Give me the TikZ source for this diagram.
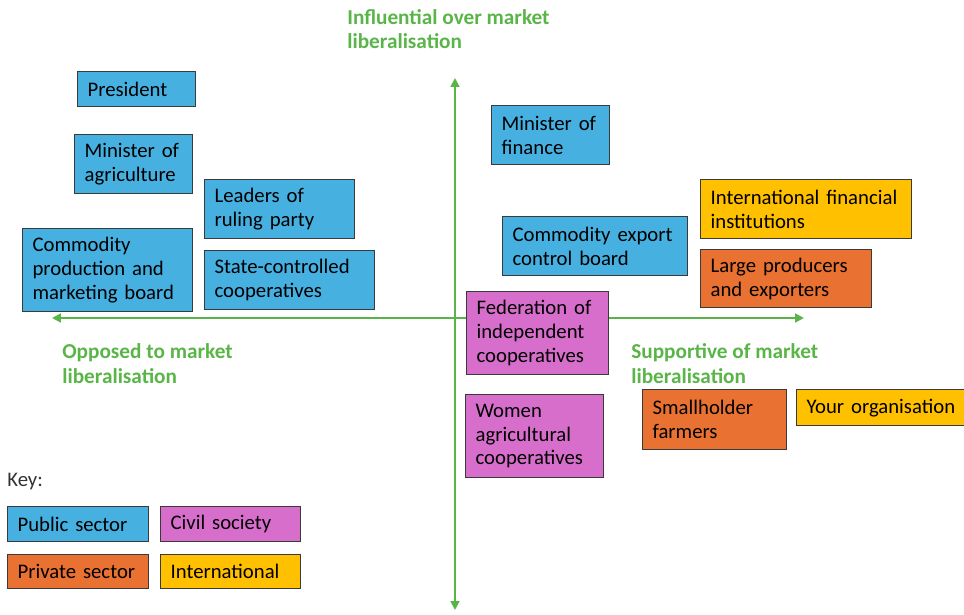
\documentclass[tikz,border=0pt]{standalone}
\usepackage{fontspec}
\setmainfont{Carlito}
\usetikzlibrary{arrows.meta}
\definecolor{pub}{HTML}{46B1E1}
\definecolor{civ}{HTML}{D86ECC}
\definecolor{priv}{HTML}{E97132}
\definecolor{intl}{HTML}{FFC000}
\definecolor{axis}{HTML}{5AB548}
\definecolor{edge}{HTML}{3A3A3A}
\definecolor{keytxt}{HTML}{333333}
\tikzset{
  actor/.style={draw=edge, line width=0.7pt, anchor=north west, align=left,
    inner xsep=0.2cm, inner ysep=0pt, text=black, font=\fontsize{11.8}{13.6}\selectfont},
  pubbox/.style={actor, fill=pub},
  civbox/.style={actor, fill=civ},
  privbox/.style={actor, fill=priv},
  intlbox/.style={actor, fill=intl},
  sz/.style 2 args={minimum width=#1*0.02cm, minimum height=#2*0.02cm, text width=#1*0.02cm-0.4cm},
  axlab/.style={text=axis, font=\bfseries\fontsize{12.1}{13.9}\selectfont, anchor=base west, align=left, inner sep=0pt},
  axline/.style={draw=axis, line width=1.1pt, {Triangle[length=5pt,width=5pt]}-{Triangle[length=5pt,width=5pt]}},
}
\begin{document}
\begin{tikzpicture}[x=0.02cm, y=-0.02cm]
  \useasboundingbox (0,0) rectangle (964,615);

  % axes
  \coordinate (top) at (455,78);
  \coordinate (bot) at (455,610);
  \coordinate (lft) at (52,318);
  \coordinate (rgt) at (804,318);
  \draw[axline] (top) -- (bot);
  \draw[axline] (lft) -- (rgt);

  % base anchor sits on the last line
  \node[axlab] (infl) at (347,49) {Influential over market\\liberalisation};
  \node[axlab] (opp)  at (62,383) {Opposed to market\\liberalisation};
  \node[axlab] (supp) at (631,383) {Supportive of market\\liberalisation};

  % public sector
  \node[pubbox, sz={118}{35}] (pres)   at (77,71)  {President};
  \node[pubbox, sz={118}{59}] (minag)  at (74,134) {Minister of\\agriculture};
  \node[pubbox, sz={150}{59}] (ruling) at (204,179) {Leaders of\\ruling party};
  \node[pubbox, sz={170}{83}] (cpmb)   at (22,228) {Commodity\\production and\\marketing board};
  \node[pubbox, sz={170}{59}] (stcoop) at (204,250) {State-controlled\\cooperatives};
  \node[pubbox, sz={118}{59}] (minfin) at (491,105) {Minister of\\finance};
  \node[pubbox, sz={185}{59}] (cecb)   at (502,216) {Commodity export\\control board};

  % civil society
  \node[civbox, sz={142}{83}] (fedcoop) at (466,291) {Federation of\\independent\\cooperatives};
  \node[civbox, sz={138}{83}] (womcoop) at (465,394) {Women\\agricultural\\cooperatives};

  % private sector and international
  \node[intlbox, sz={211}{59}] (ifi)    at (700,179) {International financial\\institutions};
  \node[privbox, sz={171}{58}] (large)  at (700,249) {Large producers\\and exporters};
  \node[privbox, sz={144}{60}] (small)  at (642,389) {Smallholder\\farmers};
  \node[intlbox, sz={180}{36}] (yourorg) at (796,389) {Your organisation};

  % key
  \node[anchor=base west, inner sep=0pt, text=keytxt, font=\fontsize{11.8}{13.6}\selectfont] (key) at (7,486) {Key:};
  \node[pubbox, sz={141}{35}]  (kpub)  at (7,506)   {Public sector};
  \node[civbox, sz={140}{35}]  (kciv)  at (160,506) {Civil society};
  \node[privbox, sz={141}{34}] (kpriv) at (7,554)   {Private sector};
  \node[intlbox, sz={140}{34}] (kintl) at (160,554) {International};
\end{tikzpicture}
\end{document}
